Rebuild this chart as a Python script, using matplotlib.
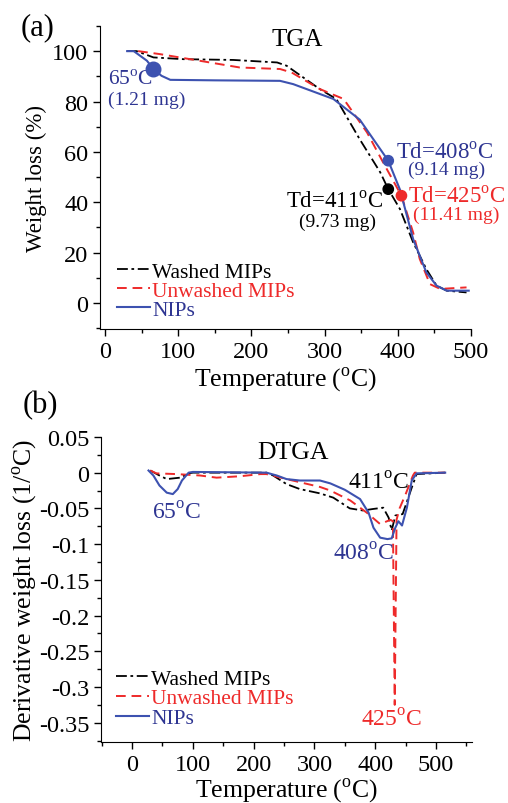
import matplotlib
matplotlib.use("Agg")
import matplotlib.pyplot as plt
from matplotlib.ticker import MultipleLocator, FuncFormatter

plt.rcParams["font.family"] = ["Liberation Serif", "DejaVu Serif"]
plt.rcParams["mathtext.fontset"] = "custom"
plt.rcParams["mathtext.rm"] = "Liberation Serif"
plt.rcParams["axes.unicode_minus"] = False

DEG = r"$^{\mathrm{o}}$C"

# TGA data (temperature, weight %)
tga_washed_t = [30, 43, 66, 107, 175, 235, 248, 293, 316, 348, 376, 387, 403, 421, 439, 453, 467, 494]
tga_washed_w = [100, 100, 97.5, 96.8, 96.5, 95.5, 94.2, 85, 81, 65, 51.9, 45.2, 37.3, 24.1, 13.5, 6.9, 4.9, 4.2]
tga_unwashed_t = [45, 75, 143, 184, 239, 255, 293, 326, 358, 380, 405, 421, 430, 444, 458, 494]
tga_unwashed_w = [100, 98.8, 95.5, 93.5, 92.9, 91.5, 85, 81, 67.7, 55.8, 42.6, 28, 17.5, 7.5, 5.6, 6.2]
tga_nips_t = [30, 39, 57, 66, 77, 89, 150, 239, 257, 312, 348, 387, 403, 421, 439, 453, 467, 497]
tga_nips_w = [100, 100, 96.2, 92.9, 90.2, 88.6, 88.4, 88.2, 86.9, 81, 72.8, 56.5, 45, 25.4, 12.2, 6.9, 4.9, 4.9]

# marked points
pt_t = [66, 387, 387, 405]
pt_w = [92.9, 56.5, 45.2, 42.6]

# DTGA data
dtga_washed_t = [30, 45, 57, 79, 93, 100, 221, 232, 254, 276, 309, 331, 358, 380, 395, 413, 422, 427, 433, 445, 460, 468, 515]
dtga_washed_d = [0.003, -0.004, -0.009, -0.007, -0.001, 0, 0, -0.004, -0.016, -0.023, -0.029, -0.035, -0.050, -0.053, -0.051, -0.049, -0.063, -0.081, -0.060, -0.058, -0.021, -0.002, 0]
dtga_unwashed_t = [30, 40, 73, 112, 139, 178, 211, 221, 254, 309, 326, 359, 386, 408, 425, 429, 432, 435, 440, 450, 462, 465, 515]
dtga_unwashed_d = [0.003, -0.001, -0.002, -0.004, -0.007, -0.005, -0.002, -0.002, -0.009, -0.020, -0.025, -0.039, -0.056, -0.072, -0.066, -0.068, -0.325, -0.066, -0.050, -0.030, -0.004, 0, 0]
dtga_nips_t = [27, 35, 45, 57, 67, 75, 82, 93, 100, 221, 238, 254, 276, 309, 326, 350, 375, 389, 397, 408, 420, 427, 433, 438, 444, 452, 460, 468, 515]
dtga_nips_d = [0.003, -0.004, -0.018, -0.028, -0.030, -0.023, -0.011, 0, 0.001, 0, -0.004, -0.009, -0.011, -0.011, -0.015, -0.024, -0.037, -0.056, -0.077, -0.091, -0.093, -0.092, -0.077, -0.068, -0.074, -0.049, -0.011, -0.001, 0]

labels = ["Washed MIPs", "Unwashed MIPs", "NIPs"]
BLUE = "#3d52b0"
BLUE_TXT = "#2e3592"
RED = "#ee2a2a"

fig = plt.figure(figsize=(5.08, 8.04), dpi=100)
ax1 = fig.add_axes([0.197, 0.5896, 0.730, 0.3769])
ax2 = fig.add_axes([0.199, 0.0759, 0.730, 0.3794])

for ax in (ax1, ax2):
    ax.spines["top"].set_visible(False)
    ax.spines["right"].set_visible(False)
    ax.tick_params(which="both", direction="out", labelsize=17.5, width=1)
    ax.tick_params(which="major", length=5)
    ax.tick_params(which="minor", length=3)

# (a) TGA
ax1.plot(tga_washed_t, tga_washed_w, color="black", ls=(0, (6, 2, 1.5, 2)), lw=1.3, label=labels[0])
ax1.plot(tga_unwashed_t, tga_unwashed_w, color=RED, ls=(0, (5, 3)), lw=1.4, label=labels[1])
ax1.plot(tga_nips_t, tga_nips_w, color=BLUE, lw=1.5, label=labels[2])
ax1.scatter(pt_t[:1], pt_w[:1], s=110, color=BLUE, zorder=5)
ax1.scatter(pt_t[1:], pt_w[1:], s=55, color=[BLUE, "black", RED], zorder=5)
ax1.set_xlim(-7, 500)
ax1.set_ylim(-10.3, 110)
ax1.set_xticks(range(0, 501, 100))
ax1.set_yticks(range(0, 101, 20))
ax1.xaxis.set_minor_locator(MultipleLocator(50))
ax1.yaxis.set_minor_locator(MultipleLocator(10))
ax1.set_xlabel("Temperature (" + DEG + ")", fontsize=18.5, labelpad=2)
ax1.set_ylabel("Weight loss (%)", fontsize=16.5, labelpad=4)

ax1.text(262, 104.8, "TGA", fontsize=18, ha="center", va="center")
ax1.text(34, 88.9, "65" + DEG, fontsize=15.5, color=BLUE_TXT, ha="center", va="center")
ax1.text(57, 81, "(1.21 mg)", fontsize=14, color=BLUE_TXT, ha="center", va="center")
ax1.text(464, 60, "Td=408" + DEG, fontsize=16.5, color=BLUE_TXT, ha="center", va="center")
ax1.text(467, 52.9, "(9.14 mg)", fontsize=14, color=BLUE_TXT, ha="center", va="center")
ax1.text(314, 40.6, "Td=411" + DEG, fontsize=16.5, color="black", ha="center", va="center")
ax1.text(317, 32.3, "(9.73 mg)", fontsize=14, color="black", ha="center", va="center")
ax1.text(480, 42.6, "Td=425" + DEG, fontsize=16.5, color=RED, ha="center", va="center", clip_on=False)
ax1.text(480, 35.3, "(11.41 mg)", fontsize=14, color=RED, ha="center", va="center", clip_on=False)

ax1.legend(loc="upper left", bbox_to_anchor=(0.045, 0.222), frameon=False,
           fontsize=15.5, handlelength=1.55, handletextpad=0.1, labelspacing=-0.05,
           borderpad=0, borderaxespad=0, labelcolor=["black", RED, BLUE_TXT])

fig.text(0.073, 0.966, "(a)", fontsize=22, ha="center", va="center")

# (b) DTGA
ax2.plot(dtga_washed_t, dtga_washed_d, color="black", ls=(0, (6, 2, 1.5, 2)), lw=1.3, label=labels[0])
ax2.plot(dtga_unwashed_t, dtga_unwashed_d, color=RED, ls=(0, (5, 3)), lw=1.4, label=labels[1])
ax2.plot(dtga_nips_t, dtga_nips_d, color=BLUE, lw=1.5, label=labels[2])
ax2.set_xlim(-51, 559)
ax2.set_ylim(-0.377, 0.05)
ax2.set_xticks(range(0, 501, 100))
ax2.xaxis.set_minor_locator(MultipleLocator(50))
ax2.set_yticks([0.05, 0, -0.05, -0.1, -0.15, -0.2, -0.25, -0.3, -0.35])
ax2.yaxis.set_minor_locator(MultipleLocator(0.025))
ax2.yaxis.set_major_formatter(FuncFormatter(lambda v, p: "%g" % round(v, 3)))
ax2.set_xlabel("Temperature (" + DEG + ")", fontsize=18.5, labelpad=0)
ax2.set_ylabel("Derivative weight loss (1/" + DEG + ")", fontsize=18.5, labelpad=0)

ax2.text(265, 0.0285, "DTGA", fontsize=18.5, ha="center", va="center")
ax2.text(73.5, -0.0558, "65" + DEG, fontsize=17, color=BLUE_TXT, ha="center", va="center")
ax2.text(405, -0.0136, "411" + DEG, fontsize=17, color="black", ha="center", va="center")
ax2.text(380, -0.114, "408" + DEG, fontsize=17, color=BLUE_TXT, ha="center", va="center")
ax2.text(427, -0.346, "425" + DEG, fontsize=17, color=RED, ha="center", va="center")

ax2.legend(loc="upper left", bbox_to_anchor=(0.04, 0.24), frameon=False,
           fontsize=15.5, handlelength=1.55, handletextpad=0.1, labelspacing=-0.02,
           borderpad=0, borderaxespad=0, labelcolor=["black", RED, BLUE_TXT])

fig.text(0.079, 0.496, "(b)", fontsize=22, ha="center", va="center")

fig.savefig("out.png", dpi=100)
